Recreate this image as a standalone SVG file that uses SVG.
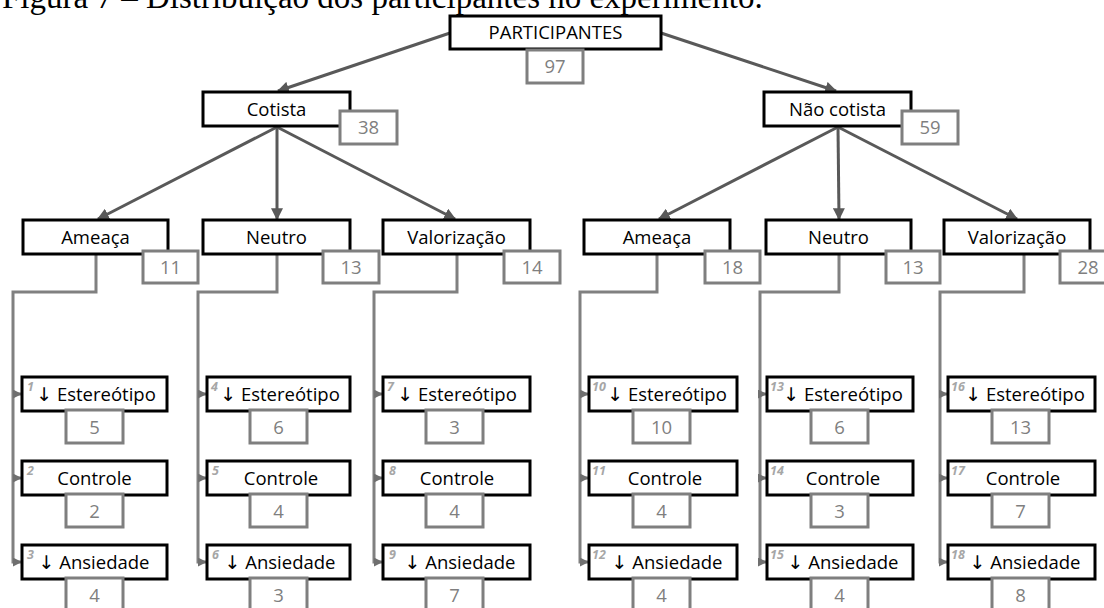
<svg xmlns="http://www.w3.org/2000/svg" width="1104" height="608" viewBox="0 0 1104 608">
<style>
.box{fill:#fff;stroke:#000;stroke-width:3}
.num{fill:#fff;stroke:#7f7f7f;stroke-width:3}
.lbl{font-family:"Open Sans","Liberation Sans",sans-serif;font-size:18.5px;fill:#000;text-anchor:middle}
.ar{font-family:"DejaVu Sans",sans-serif;font-size:19px}
.n{font-family:"Open Sans","Liberation Sans",sans-serif;font-size:18.5px;fill:#7f7f7f;text-anchor:middle}
.sup{font-family:"Open Sans","Liberation Sans",sans-serif;font-size:12.5px;font-style:italic;font-weight:bold;fill:#a6a6a6}
.title{font-family:"Liberation Serif",serif;font-size:33px;fill:#000}
.main{fill:none;stroke:#595959;stroke-width:3}
.elb{fill:none;stroke:#808080;stroke-width:3}
</style>
<defs>
<marker id="ah" viewBox="0 0 10 10" refX="9" refY="5" markerWidth="4" markerHeight="4" orient="auto" markerUnits="strokeWidth">
<path d="M0 0L10 5L0 10z" fill="#595959"/>
</marker>
<marker id="ah2" viewBox="0 0 10 10" refX="9" refY="5" markerWidth="3" markerHeight="3" orient="auto" markerUnits="strokeWidth">
<path d="M0 0L10 5L0 10z" fill="#6f6f6f"/>
</marker>
</defs>
<text class="title" x="2" y="8">Figura 7 – Distribuição dos participantes no experimento.</text>
<g id="connectors">
<path class="main" d="M450 33L278 91" marker-end="url(#ah)"/>
<path class="main" d="M661 33L836 91" marker-end="url(#ah)"/>
<path class="main" d="M277 127L98 219" marker-end="url(#ah)"/>
<path class="main" d="M277 127L277 219" marker-end="url(#ah)"/>
<path class="main" d="M277 127L455 219" marker-end="url(#ah)"/>
<path class="main" d="M838 127L659 219" marker-end="url(#ah)"/>
<path class="main" d="M838 127L839 219" marker-end="url(#ah)"/>
<path class="main" d="M838 127L1017 219" marker-end="url(#ah)"/>
<path class="elb" d="M96 255V292H13V562H21" marker-end="url(#ah2)"/>
<path class="elb" d="M13 394H21" marker-end="url(#ah2)"/>
<path class="elb" d="M13 478H21" marker-end="url(#ah2)"/>
<path class="elb" d="M277 255V292H198V562H206" marker-end="url(#ah2)"/>
<path class="elb" d="M198 394H206" marker-end="url(#ah2)"/>
<path class="elb" d="M198 478H206" marker-end="url(#ah2)"/>
<path class="elb" d="M457 255V292H374V562H382" marker-end="url(#ah2)"/>
<path class="elb" d="M374 394H382" marker-end="url(#ah2)"/>
<path class="elb" d="M374 478H382" marker-end="url(#ah2)"/>
<path class="elb" d="M657 255V292H580V562H588" marker-end="url(#ah2)"/>
<path class="elb" d="M580 394H588" marker-end="url(#ah2)"/>
<path class="elb" d="M580 478H588" marker-end="url(#ah2)"/>
<path class="elb" d="M839 255V292H760V562H766" marker-end="url(#ah2)"/>
<path class="elb" d="M760 394H766" marker-end="url(#ah2)"/>
<path class="elb" d="M760 478H766" marker-end="url(#ah2)"/>
<path class="elb" d="M1024 255V292H940V562H947" marker-end="url(#ah2)"/>
<path class="elb" d="M940 394H947" marker-end="url(#ah2)"/>
<path class="elb" d="M940 478H947" marker-end="url(#ah2)"/>
</g>
<g id="participantes">
<rect class="box" x="450" y="16" width="211" height="33"/>
<text class="lbl" x="555.5" y="39">PARTICIPANTES</text>
<rect class="num" x="527" y="50" width="56" height="33"/>
<text class="n" x="555" y="73">97</text>
</g>
<g id="cotista">
<rect class="box" x="203" y="92" width="147" height="34"/>
<text class="lbl" x="276.5" y="116">Cotista</text>
<rect class="num" x="340" y="111" width="57" height="33"/>
<text class="n" x="368.5" y="134">38</text>
</g>
<g id="nao-cotista">
<rect class="box" x="764" y="92" width="147" height="34"/>
<text class="lbl" x="837.5" y="116">Não cotista</text>
<rect class="num" x="902" y="111" width="56" height="33"/>
<text class="n" x="930" y="134">59</text>
</g>
<g id="c-ameaca">
<rect class="box" x="23" y="220" width="145" height="34"/>
<text class="lbl" x="95.5" y="244">Ameaça</text>
<rect class="num" x="143" y="251" width="55" height="32"/>
<text class="n" x="170.5" y="274">11</text>
</g>
<g id="c-neutro">
<rect class="box" x="203" y="220" width="147" height="34"/>
<text class="lbl" x="276.5" y="244">Neutro</text>
<rect class="num" x="323" y="251" width="56" height="32"/>
<text class="n" x="351" y="274">13</text>
</g>
<g id="c-valorizacao">
<rect class="box" x="383" y="220" width="147" height="34"/>
<text class="lbl" x="456.5" y="244">Valorização</text>
<rect class="num" x="504" y="251" width="56" height="32"/>
<text class="n" x="532" y="274">14</text>
</g>
<g id="n-ameaca">
<rect class="box" x="584" y="220" width="146" height="34"/>
<text class="lbl" x="657" y="244">Ameaça</text>
<rect class="num" x="705" y="251" width="55" height="32"/>
<text class="n" x="732.5" y="274">18</text>
</g>
<g id="n-neutro">
<rect class="box" x="766" y="220" width="145" height="34"/>
<text class="lbl" x="838.5" y="244">Neutro</text>
<rect class="num" x="886" y="251" width="54" height="32"/>
<text class="n" x="913" y="274">13</text>
</g>
<g id="n-valorizacao">
<rect class="box" x="944" y="220" width="146" height="34"/>
<text class="lbl" x="1017" y="244">Valorização</text>
<rect class="num" x="1060" y="251" width="56" height="32"/>
<text class="n" x="1088" y="274">28</text>
</g>
<g id="g1">
<rect class="box" x="22" y="377" width="145" height="34"/>
<text class="sup" x="27" y="391">1</text>
<text class="lbl" x="96" y="401"><tspan class="ar">↓</tspan> Estereótipo</text>
<rect class="num" x="66" y="410" width="57" height="33"/>
<text class="n" x="94.5" y="434">5</text>
</g>
<g id="g2">
<rect class="box" x="22" y="461" width="145" height="34"/>
<text class="sup" x="27" y="475">2</text>
<text class="lbl" x="94.5" y="485">Controle</text>
<rect class="num" x="66" y="494" width="57" height="33"/>
<text class="n" x="94.5" y="518">2</text>
</g>
<g id="g3">
<rect class="box" x="22" y="545" width="145" height="34"/>
<text class="sup" x="27" y="559">3</text>
<text class="lbl" x="94" y="569"><tspan class="ar">↓</tspan> Ansiedade</text>
<rect class="num" x="66" y="578" width="57" height="33"/>
<text class="n" x="94.5" y="602">4</text>
</g>
<g id="g4">
<rect class="box" x="207" y="377" width="143" height="34"/>
<text class="sup" x="211" y="391">4</text>
<text class="lbl" x="280" y="401"><tspan class="ar">↓</tspan> Estereótipo</text>
<rect class="num" x="250" y="410" width="57" height="33"/>
<text class="n" x="278.5" y="434">6</text>
</g>
<g id="g5">
<rect class="box" x="207" y="461" width="143" height="34"/>
<text class="sup" x="212" y="475">5</text>
<text class="lbl" x="281" y="485">Controle</text>
<rect class="num" x="250" y="494" width="57" height="33"/>
<text class="n" x="278.5" y="518">4</text>
</g>
<g id="g6">
<rect class="box" x="207" y="545" width="143" height="34"/>
<text class="sup" x="212" y="559">6</text>
<text class="lbl" x="280" y="569"><tspan class="ar">↓</tspan> Ansiedade</text>
<rect class="num" x="250" y="578" width="57" height="33"/>
<text class="n" x="278.5" y="602">3</text>
</g>
<g id="g7">
<rect class="box" x="383" y="377" width="147" height="34"/>
<text class="sup" x="387" y="391">7</text>
<text class="lbl" x="457" y="401"><tspan class="ar">↓</tspan> Estereótipo</text>
<rect class="num" x="426" y="410" width="57" height="33"/>
<text class="n" x="454.5" y="434">3</text>
</g>
<g id="g8">
<rect class="box" x="383" y="461" width="147" height="34"/>
<text class="sup" x="389" y="475">8</text>
<text class="lbl" x="457" y="485">Controle</text>
<rect class="num" x="426" y="494" width="57" height="33"/>
<text class="n" x="454.5" y="518">4</text>
</g>
<g id="g9">
<rect class="box" x="383" y="545" width="147" height="34"/>
<text class="sup" x="389" y="559">9</text>
<text class="lbl" x="460" y="569"><tspan class="ar">↓</tspan> Ansiedade</text>
<rect class="num" x="426" y="578" width="57" height="33"/>
<text class="n" x="454.5" y="602">7</text>
</g>
<g id="g10">
<rect class="box" x="589" y="377" width="148" height="34"/>
<text class="sup" x="592" y="391">10</text>
<text class="lbl" x="667" y="401"><tspan class="ar">↓</tspan> Estereótipo</text>
<rect class="num" x="633" y="410" width="57" height="33"/>
<text class="n" x="661.5" y="434">10</text>
</g>
<g id="g11">
<rect class="box" x="589" y="461" width="148" height="34"/>
<text class="sup" x="592" y="475">11</text>
<text class="lbl" x="665" y="485">Controle</text>
<rect class="num" x="633" y="494" width="57" height="33"/>
<text class="n" x="661.5" y="518">4</text>
</g>
<g id="g12">
<rect class="box" x="589" y="545" width="148" height="34"/>
<text class="sup" x="592" y="559">12</text>
<text class="lbl" x="667" y="569"><tspan class="ar">↓</tspan> Ansiedade</text>
<rect class="num" x="633" y="578" width="57" height="33"/>
<text class="n" x="661.5" y="602">4</text>
</g>
<g id="g13">
<rect class="box" x="767" y="377" width="146" height="34"/>
<text class="sup" x="770" y="391">13</text>
<text class="lbl" x="843" y="401"><tspan class="ar">↓</tspan> Estereótipo</text>
<rect class="num" x="811" y="410" width="57" height="33"/>
<text class="n" x="839.5" y="434">6</text>
</g>
<g id="g14">
<rect class="box" x="767" y="461" width="146" height="34"/>
<text class="sup" x="770" y="475">14</text>
<text class="lbl" x="843" y="485">Controle</text>
<rect class="num" x="811" y="494" width="57" height="33"/>
<text class="n" x="839.5" y="518">3</text>
</g>
<g id="g15">
<rect class="box" x="767" y="545" width="146" height="34"/>
<text class="sup" x="770" y="559">15</text>
<text class="lbl" x="843" y="569"><tspan class="ar">↓</tspan> Ansiedade</text>
<rect class="num" x="811" y="578" width="57" height="33"/>
<text class="n" x="839.5" y="602">4</text>
</g>
<g id="g16">
<rect class="box" x="948" y="377" width="147" height="34"/>
<text class="sup" x="951" y="391">16</text>
<text class="lbl" x="1025" y="401"><tspan class="ar">↓</tspan> Estereótipo</text>
<rect class="num" x="992" y="410" width="57" height="33"/>
<text class="n" x="1020.5" y="434">13</text>
</g>
<g id="g17">
<rect class="box" x="948" y="461" width="147" height="34"/>
<text class="sup" x="951" y="475">17</text>
<text class="lbl" x="1023" y="485">Controle</text>
<rect class="num" x="992" y="494" width="57" height="33"/>
<text class="n" x="1020.5" y="518">7</text>
</g>
<g id="g18">
<rect class="box" x="948" y="545" width="147" height="34"/>
<text class="sup" x="951" y="559">18</text>
<text class="lbl" x="1025" y="569"><tspan class="ar">↓</tspan> Ansiedade</text>
<rect class="num" x="992" y="578" width="57" height="33"/>
<text class="n" x="1020.5" y="602">8</text>
</g>
</svg>
